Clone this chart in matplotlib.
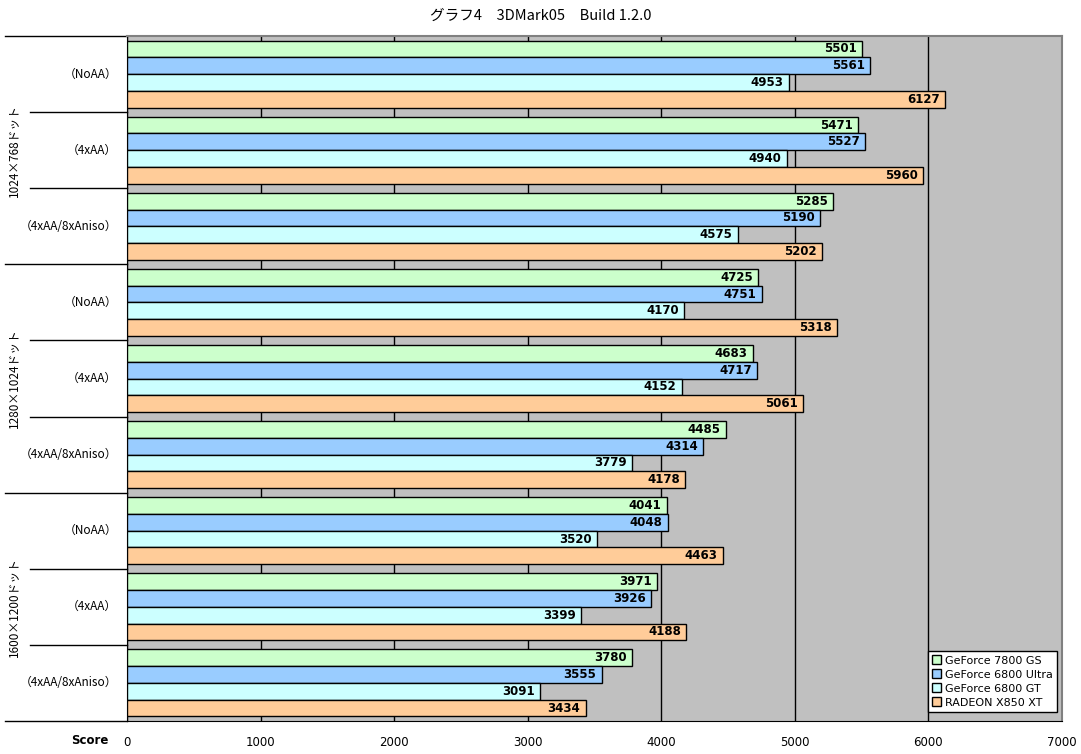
import matplotlib
matplotlib.use("Agg")
import matplotlib.pyplot as plt
import matplotlib.transforms as mtransforms
from matplotlib.patches import Patch

plt.rcParams["font.family"] = ["Noto Sans CJK JP", "DejaVu Sans"]

SERIES = ["GeForce 7800 GS", "GeForce 6800 Ultra", "GeForce 6800 GT", "RADEON X850 XT"]
COLORS = ["#CCFFCC", "#99CCFF", "#CCFFFF", "#FFCC99"]

RESOLUTIONS = ["1024×768ドット", "1280×1024ドット", "1600×1200ドット"]
SETTINGS = ["（NoAA）", "（4xAA）", "（4xAA/8xAniso）"]

GF7800GS = [5501, 5471, 5285, 4725, 4683, 4485, 4041, 3971, 3780]
GF6800U = [5561, 5527, 5190, 4751, 4717, 4314, 4048, 3926, 3555]
GF6800GT = [4953, 4940, 4575, 4170, 4152, 3779, 3520, 3399, 3091]
X850XT = [6127, 5960, 5202, 5318, 5061, 4178, 4463, 4188, 3434]

XTICKS = [0, 1000, 2000, 3000, 4000, 5000, 6000, 7000]

BAR_H = 0.22

fig = plt.figure(figsize=(10.81, 7.54), dpi=100)
ax = fig.add_axes([127 / 1081, 1 - 721 / 754, 935 / 1081, 685 / 754])
ax.set_facecolor("#C0C0C0")

n_groups = len(GF7800GS)
for j, (vals, color, name) in enumerate(zip([GF7800GS, GF6800U, GF6800GT, X850XT], COLORS, SERIES)):
    ys = [i + 0.5 + (j - 1.5) * BAR_H for i in range(n_groups)]
    ax.barh(ys, vals, height=BAR_H, color=color, edgecolor="black", linewidth=1.0, zorder=3, label=name)
    for y, v in zip(ys, vals):
        ax.text(v - 40, y, str(v), ha="right", va="center", fontsize=8.5,
                fontweight="bold", family="DejaVu Sans", zorder=4)

ax.set_xlim(0, 7000)
ax.set_ylim(n_groups, 0)
ax.set_xticks(XTICKS)
ax.set_xticklabels([str(t) for t in XTICKS], fontsize=8.5, family="DejaVu Sans")
ax.tick_params(axis="x", length=0, pad=11)
ax.set_yticks([])
ax.grid(axis="x", color="black", linewidth=1.0, zorder=1)
ax.set_axisbelow(True)

for side in ("top", "right"):
    ax.spines[side].set_color("#808080")
    ax.spines[side].set_linewidth(1.5)
ax.spines["left"].set_color("black")
ax.spines["bottom"].set_color("black")

# hierarchical category axis
trans = mtransforms.blended_transform_factory(ax.transAxes, ax.transData)
x_long = -122 / 935
x_short = -97 / 935
for b in range(n_groups + 1):
    x0 = x_long if b % 3 == 0 else x_short
    ax.plot([x0, 0], [b, b], color="black", linewidth=1.0, transform=trans, clip_on=False)

for i in range(n_groups):
    ax.text(-10 / 935, i + 0.5, SETTINGS[i % 3], transform=trans, ha="right", va="center", fontsize=8.5)

for k, res in enumerate(RESOLUTIONS):
    ax.text(-112 / 935, 3 * k + 1.5, res, transform=trans, ha="center", va="center",
            rotation=90, fontsize=8.5)

ax.text(-18 / 935, -19 / 685, "Score", transform=ax.transAxes, ha="right", va="center",
        fontsize=8.5, fontweight="bold", family="DejaVu Sans")

fig.text(0.5, 1 - 16 / 754, "グラフ4　3DMark05　Build 1.2.0", ha="center", va="center", fontsize=10.5)

handles = [Patch(facecolor=c, edgecolor="black", label=s) for c, s in zip(COLORS, SERIES)]
leg = ax.legend(handles=handles, loc="lower right", bbox_to_anchor=(1 - 5 / 935, 9 / 685),
                frameon=True, fancybox=False, handlelength=0.8, handleheight=0.8,
                handletextpad=0.3, labelspacing=0.35, borderpad=0.4, borderaxespad=0,
                prop={"family": "DejaVu Sans", "size": 8})
leg.get_frame().set_edgecolor("black")
leg.get_frame().set_linewidth(1.0)
leg.get_frame().set_alpha(1.0)

fig.savefig("out.png", dpi=100)
